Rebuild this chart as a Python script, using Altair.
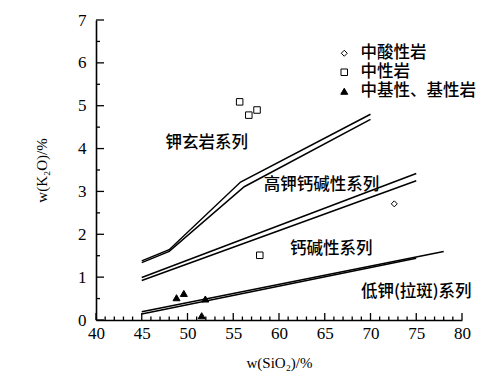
import altair as alt
import pandas as pd

# ---- boundary lines (each drawn as a pair of near-parallel lines) ----
line1a_x = [45, 48, 55.8, 70]
line1a_y = [1.38, 1.64, 3.22, 4.80]
line1b_x = [45, 48, 56.2, 70]
line1b_y = [1.34, 1.60, 3.11, 4.68]
line2a_x = [45, 75]
line2a_y = [0.99, 3.42]
line2b_x = [45, 75]
line2b_y = [0.92, 3.25]
line3a_x = [45, 78]
line3a_y = [0.19, 1.60]
line3b_x = [45, 75]
line3b_y = [0.14, 1.44]

# ---- samples ----
categories = ["中酸性岩", "中性岩", "中基性、基性岩"]
acid_x = [72.6]
acid_y = [2.71]
inter_x = [55.7, 56.7, 57.6, 57.9]
inter_y = [5.09, 4.78, 4.90, 1.51]
basic_x = [48.8, 49.6, 51.95, 51.55]
basic_y = [0.52, 0.62, 0.49, 0.10]

# ---- series labels ----
label_text = ["钾玄岩系列", "高钾钙碱性系列", "钙碱性系列", "低钾(拉斑)系列"]
label_x = [52.1, 64.65, 65.7, 75.0]
label_y = [4.14, 3.16, 1.66, 0.66]

# ---- axis ticks ----
x_major = list(range(40, 81, 5))
x_minor = [v for v in range(41, 80) if v % 5 != 0]
y_major = list(range(0, 8))
y_minor = [v + 0.5 for v in range(0, 7)]

W, H = 366, 300

lines = []
for name, xs, ys in [("1a", line1a_x, line1a_y), ("1b", line1b_x, line1b_y),
                     ("2a", line2a_x, line2a_y), ("2b", line2b_x, line2b_y),
                     ("3a", line3a_x, line3a_y), ("3b", line3b_x, line3b_y)]:
    for i, (a, b) in enumerate(zip(xs, ys)):
        lines.append({"id": name, "i": i, "x": a, "y": b})
lines_df = pd.DataFrame(lines)

pts = []
for cat, xs, ys in [(categories[0], acid_x, acid_y), (categories[1], inter_x, inter_y),
                    (categories[2], basic_x, basic_y)]:
    for a, b in zip(xs, ys):
        pts.append({"cat": cat, "x": a, "y": b})
pts_df = pd.DataFrame(pts)

labels_df = pd.DataFrame({"t": label_text, "x": label_x, "y": label_y})

xscale = alt.Scale(domain=[40, 80], nice=False, zero=False)
yscale = alt.Scale(domain=[0, 7], nice=False, zero=False)

xaxis = alt.Axis(values=x_major, title="w(SiO₂)/%", ticks=False, grid=False,
                 domainColor="black", domainWidth=1.6, labelFont="Liberation Serif",
                 labelFontSize=17, labelColor="black", labelPadding=5, labelFlush=False,
                 labelOverlap=False, titleFont="Liberation Serif", titleFontSize=15,
                 titleFontWeight="normal", titleColor="black", titlePadding=14)
yaxis = alt.Axis(values=y_major, title="w(K₂O)/%", ticks=False, grid=False,
                 domainColor="black", domainWidth=1.6, labelFont="Liberation Serif",
                 labelFontSize=17, labelColor="black", labelPadding=10,
                 labelOverlap=False, titleFont="Liberation Serif", titleFontSize=15,
                 titleFontWeight="normal", titleColor="black", titlePadding=28)


def X(f="x"):
    return alt.X(f"{f}:Q", scale=xscale, axis=xaxis)


def Y(f="y"):
    return alt.Y(f"{f}:Q", scale=yscale, axis=yaxis)


line_layer = alt.Chart(lines_df).mark_line(color="black", strokeWidth=1.5).encode(
    x=X(), y=Y(), detail="id:N", order="i:Q")

legend = alt.Legend(title=None, orient="none", legendX=240, legendY=25, padding=0,
                    labelFont="Noto Sans CJK SC", labelFontSize=16.5, labelColor="black",
                    labelFontWeight=500, symbolStrokeWidth=1, rowPadding=2,
                    labelOffset=8)

point_layer = alt.Chart(pts_df).mark_point(strokeWidth=1, opacity=1).encode(
    x=X(), y=Y(),
    shape=alt.Shape("cat:N", scale=alt.Scale(domain=categories,
                    range=["diamond", "square", "triangle-up"]), legend=legend),
    fill=alt.Fill("cat:N", scale=alt.Scale(domain=categories,
                  range=["white", "white", "black"]), legend=legend),
    stroke=alt.Stroke("cat:N", scale=alt.Scale(domain=categories,
                      range=["black", "black", "black"]), legend=legend),
    size=alt.Size("cat:N", scale=alt.Scale(domain=categories, range=[36, 49, 75]),
                  legend=legend),
)

text_layer = alt.Chart(labels_df).mark_text(font="Noto Sans CJK SC", fontSize=16.5,
                                            fontWeight=500, color="black",
                                            align="center", baseline="middle").encode(
    x=X(), y=Y(), text="t:N")

xt_major = alt.Chart(pd.DataFrame({"x": x_major})).mark_rule(color="black", strokeWidth=1.3).encode(
    x=X(), y=alt.value(H), y2=alt.value(H - 7))
xt_minor = alt.Chart(pd.DataFrame({"x": x_minor})).mark_rule(color="black", strokeWidth=1.3).encode(
    x=X(), y=alt.value(H), y2=alt.value(H - 3.5))
yt_major = alt.Chart(pd.DataFrame({"y": y_major})).mark_rule(color="black", strokeWidth=1.3).encode(
    y=Y(), x=alt.value(0), x2=alt.value(8))
yt_minor = alt.Chart(pd.DataFrame({"y": y_minor})).mark_rule(color="black", strokeWidth=1.3).encode(
    y=Y(), x=alt.value(0), x2=alt.value(4))

chart = alt.layer(line_layer, xt_major, xt_minor, yt_major, yt_minor, text_layer,
                  point_layer).properties(
    width=W, height=H,
    autosize=alt.AutoSizeParams(type="none"),
    padding={"left": 88, "top": 12, "right": 30, "bottom": 56},
    background="white",
).configure_view(stroke=None)

chart.save("out.html", embed_options={"renderer": "svg", "actions": False})
